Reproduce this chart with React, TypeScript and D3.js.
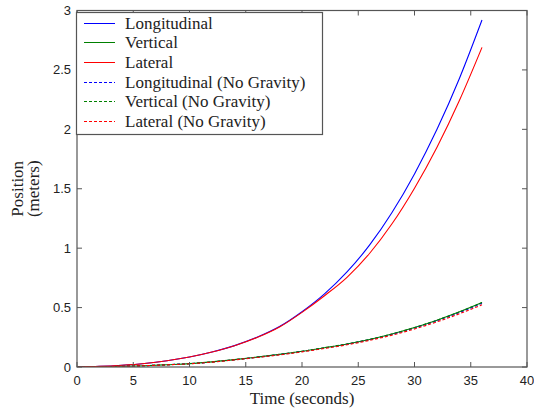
import * as d3 from "d3";

// time samples (seconds)
const times = [0, 2, 4, 6, 8, 10, 12, 14, 16, 18, 20, 22, 24, 26, 28, 30, 32, 34, 36];

// positions (meters)
const longitudinal = [0, 0.005, 0.015, 0.03, 0.053, 0.084, 0.126, 0.18, 0.25, 0.34, 0.465, 0.615, 0.8, 1.025, 1.3, 1.625, 2.0, 2.43, 2.92];
const vertical = [0, 0.002, 0.006, 0.011, 0.019, 0.028, 0.043, 0.062, 0.083, 0.106, 0.132, 0.162, 0.194, 0.232, 0.278, 0.332, 0.394, 0.464, 0.542];
const lateral = [0, 0.005, 0.015, 0.03, 0.053, 0.084, 0.126, 0.179, 0.248, 0.337, 0.46, 0.6, 0.755, 0.955, 1.205, 1.505, 1.85, 2.245, 2.69];
const longNoGrav = [0, 0.002, 0.006, 0.011, 0.019, 0.028, 0.042, 0.061, 0.082, 0.105, 0.131, 0.16, 0.192, 0.23, 0.275, 0.328, 0.39, 0.459, 0.536];
const vertNoGrav = [0, 0.002, 0.006, 0.011, 0.019, 0.028, 0.043, 0.062, 0.083, 0.106, 0.132, 0.162, 0.194, 0.232, 0.278, 0.332, 0.394, 0.464, 0.542];
const latNoGrav = [0, 0.002, 0.006, 0.011, 0.018, 0.027, 0.041, 0.06, 0.08, 0.102, 0.127, 0.156, 0.187, 0.224, 0.268, 0.32, 0.38, 0.448, 0.523];

const xTicks = [0, 5, 10, 15, 20, 25, 30, 35, 40];
const yTicks = [0, 0.5, 1, 1.5, 2, 2.5, 3];

const series = [
  { name: "Longitudinal", values: longitudinal, color: "#0000ff", dash: "" },
  { name: "Vertical", values: vertical, color: "#008000", dash: "" },
  { name: "Lateral", values: lateral, color: "#ff0000", dash: "" },
  { name: "Longitudinal (No Gravity)", values: longNoGrav, color: "#0000ff", dash: "3,2" },
  { name: "Vertical (No Gravity)", values: vertNoGrav, color: "#008000", dash: "3,2" },
  { name: "Lateral (No Gravity)", values: latNoGrav, color: "#ff0000", dash: "3,2" },
];

const W = 534;
const H = 413;
const left = 77;
const right = 527;
const top = 10.5;
const bottom = 367;

const serif = "'Liberation Serif', 'Times New Roman', serif";
const sans = "'Liberation Sans', Arial, sans-serif";

export default function App() {
  const x = d3.scaleLinear().domain([0, 40]).range([left, right]);
  const y = d3.scaleLinear().domain([0, 3]).range([bottom, top]);
  const line = d3
    .line<number>()
    .x((_, i) => x(times[i]))
    .y((d) => y(d))
    .curve(d3.curveMonotoneX);

  const axisColor = "#555";
  const tick = 5;

  return (
    <svg
      width={W}
      height={H}
      style={{ position: "absolute", left: 0, top: 0, background: "#fff" }}
    >
      <defs>
        <clipPath id="plotclip">
          <rect x={left} y={top} width={right - left} height={bottom - top} />
        </clipPath>
      </defs>
      <rect x={0} y={0} width={W} height={H} fill="#fff" />

      <g clipPath="url(#plotclip)">
        {series.map((s) => (
          <path
            key={s.name}
            d={line(s.values) || ""}
            fill="none"
            stroke={s.color}
            strokeWidth={1.1}
            strokeDasharray={s.dash || undefined}
          />
        ))}
      </g>

      {/* frame */}
      <rect
        x={left}
        y={top}
        width={right - left}
        height={bottom - top}
        fill="none"
        stroke={axisColor}
        strokeWidth={1.2}
      />

      {/* x ticks */}
      {xTicks.map((t) => (
        <g key={"x" + t}>
          <line x1={x(t)} x2={x(t)} y1={bottom} y2={bottom - tick} stroke={axisColor} />
          <line x1={x(t)} x2={x(t)} y1={top} y2={top + tick} stroke={axisColor} />
          <text x={x(t)} y={bottom + 18} textAnchor="middle" fontFamily={sans} fontSize={13} fill="#222">
            {t}
          </text>
        </g>
      ))}

      {/* y ticks */}
      {yTicks.map((t) => (
        <g key={"y" + t}>
          <line x1={left} x2={left + tick} y1={y(t)} y2={y(t)} stroke={axisColor} />
          <line x1={right} x2={right - tick} y1={y(t)} y2={y(t)} stroke={axisColor} />
          <text x={left - 6} y={y(t) + 4.5} textAnchor="end" fontFamily={sans} fontSize={13} fill="#222">
            {t}
          </text>
        </g>
      ))}

      {/* axis labels */}
      <text x={(left + right) / 2} y={404} textAnchor="middle" fontFamily={serif} fontSize={17} fill="#222">
        Time (seconds)
      </text>
      <g transform={`translate(23, ${(top + bottom) / 2}) rotate(-90)`}>
        <text x={0} y={0} textAnchor="middle" fontFamily={serif} fontSize={17} fill="#222">
          Position
        </text>
        <text x={0} y={16} textAnchor="middle" fontFamily={serif} fontSize={17} fill="#222">
          (meters)
        </text>
      </g>

      {/* legend */}
      <g>
        <rect x={76.5} y={12.5} width={246} height={122} fill="#fff" stroke={axisColor} strokeWidth={1.2} />
        {series.map((s, i) => {
          const ly = Math.round(22.7 + i * 19.6) + 0.5;
          return (
            <g key={"l" + s.name}>
              <line
                x1={84}
                x2={115}
                y1={ly}
                y2={ly}
                stroke={s.color}
                strokeWidth={1}
                strokeDasharray={s.dash || undefined}
              />
              <text x={125} y={ly + 5.5} fontFamily={serif} fontSize={17} fill="#222">
                {s.name}
              </text>
            </g>
          );
        })}
      </g>
    </svg>
  );
}
